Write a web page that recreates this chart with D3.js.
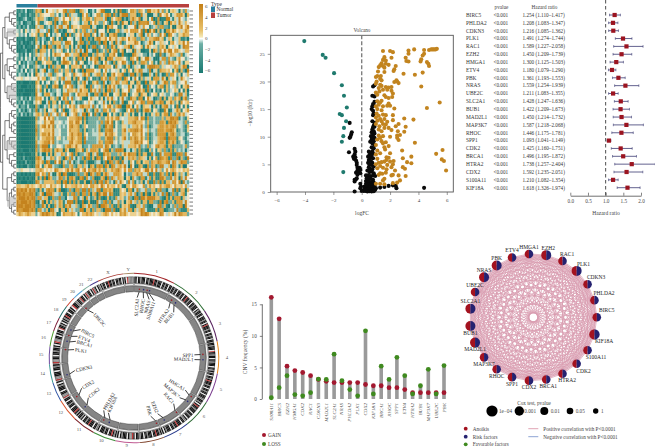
<!DOCTYPE html>
<html><head><meta charset="utf-8">
<script src="https://cdn.jsdelivr.net/npm/d3@7"></script>
<style>html,body{margin:0;padding:0;background:#fff}svg{display:block}text{font-family:"Liberation Serif",serif}</style>
</head><body><svg id="c" width="655" height="448"></svg>
<script>
// ---------- heatmap ----------
const heatRows = [
"1121301127681684271538740164587315062784315764103872465138750247163875204613857241",
"0211202116254703867140625837016475238641705264873150627483160574382607513486270518",
"1012310125738614068354726017846315704826351760482735164705827361408726153704681532",
"2130122014760382514763801256478306175248370165284731605724816350478162537084261735",
"1202131106351748260571346807254160738427506183465270148375621407538160247358126470",
"3241532435847602631578043682517406385721460378152647053816427503186274051836472815",
"4232413546158370462785136047285163740586213704856213075482631704582163740526817340",
"0110210017256038417526083417605283174605328471560832471650273186470528136470538216",
"1020101206381752407618354072685134708526314785061347285160473825106748352617048362",
"0102011014725083617405286137460825136708425137608254713860425817360472581637402586",
"0011200127058316472805136748025617384025736184750263184072561384702561830476258130",
"3120314126375804162783405167280365147826301574826035147286350172648035172684530261",
"2131423030657184270365814720357681403627580146375028164735026487153620784153627804",
"1402132217048526317604825371680425317860423516784025613874205163870452617385024617",
"3023141126384170526348071652840367185204637158024763185026473815602478351620748361",
"2130412317046825137408265317064825736104875263407185236470815236478105623748150326",
"1322031408572614035786124075368214705836217406853126740538216470582637140586273041",
"4453443444756236647305846257130684275316047582631704528136047528163740582613704528",
"0010001007582614703586214073685127048536217804536127084531627485016372850463172806",
"0100010106472581360472581630475286134075281630742586130472861537048265130748265103",
"0001000007362581470362581746032586147302581643705268134705826134752068137450268134",
"0010000108472601538462701538472601358470216357480126358741026385470162385471026538",
"2131203127605184273605814720368157402638571460375281640372851640372581640782516403",
"1203121036485270163847250163874052618730546128703654127083561427086354127086351240",
"3022131107263851704263581746025381764025831746208357164207358146203851746201387560",
"1312023128170582637106842537108625341706825314760258341607253481607253846017253840",
"2031202136701826350781462730581642730581647302581640725816430725814630725814673025",
"0000000007226172345872264781226857234647822678512268573226478226782316287345267123",
"0000000006327163347862263871236758234758622785132276843275682237863172684362715243",
"0000000007216272358761327684223877234658223768142687543276582237682217673456271235",
"0000000008227162357862264771327685234768122786323768543276682237683217674365172348",
"0000000007236172358761227684224776234768222678523786543376582337683216784362517246",
"0000000006228172346781326873227687235678123687252687654276582237582316875463217258",
"0000000007327162357681336782236786243678123788322688544275682337682317674352617423",
"0000000008236173368722268712366852347681227871227865432765822376822177753462715243",
"0010001007261806358716037816270816345376271068237501682760718362716801762873425160",
"0001000106187207536831680716827061834762801671286180627381706283716281706354172638",
"0102010007861702364816073827186072846730817263706182716083761287062817635408172365",
"0010201006728160358372617082736187062487306817260837168270618736208173635482071683",
"1010021017816270348162701683728617062458371608716270836182736078162708361254736018",
"4354443436674685472685476574867456748257468574657386574865748652748657485746574857",
"0101010107861270348761827608172638071623581068726108376281607386270617283546172380",
"0010101006172837560817261837160827361708521738607182637086127308172681607354627180",
"0100010018726170238361782670183627081763482716082713670817263807162837160752861374",
"6655675654567451674567465746574657465746574574657465746576457465746574657413876250",
"8787868782173820167382071682617371862076821738016728716380271682731608273546102785",
"8878778871280716358270168372617082716387106278136270816738261708273618270354681726",
"7888787882701682371608273617802617384062716380172638170628173601782637018254173682",
"8788878781072816538207168261738071628361702861370182637081627380716283706354281670",
"8887888782180716527360178623071627836017263806172836017283617082637180627354810276",
"8778887871702816378201673826107283617062817360827163801273680167283716027456218307",
"5765676552465674567465748657465748656586574657486574657486574657485763417062534817"
];
const heatColors = ["#1c7a72","#2f8a80","#6caa9f","#bcd8ce","#f0e8cc","#ecd08e","#e3b862","#d39a36","#c4831e"];
const heatLegendTicks = [6,4,2,0,-2,-4,-6];
const typeNames = ["Normal","Tumor"];
const typeColors = ["#2a7f9e","#b8403e"];
const normalCols = 10;
const tumorColumnStride = 31; // display order of the tumour samples after clustering
const dendro = [[[[[0,0],[0,[0,0]]],[[0,0],[[0,0],[0,[0,0]]]]],[[[0,0],[[0,0],[0,[0,0]]]],[[0,[0,0]],[0,[0,[0,0]]]]]],[[[[0,[0,0]],[[0,0],[0,0]]],[[0,[0,[0,0]]],[[0,0],[0,[0,0]]]]],[[[0,0],[0,0]],[[[0,0],[0,0]],[[0,0],[0,0]]]]]];
// ---------- volcano ----------
const volcanoDown = [[-4.05,27.3],[-2.75,24.8],[-2.55,24.3],[-1.95,21.5],[-1.4,19.3],[-1.25,17.4],[-1.05,15.3],[-1.55,14.1],[-1.4,13.9],[-1.1,12.8],[-1.25,11.6],[-1.3,10.1],[-1.4,9.1],[-1.3,3.6]];
const volcanoUp = [[4.75,25.7],[4.9,25.8],[5,25.8],[5.1,25.8],[5.2,25.8],[5.3,25.9],[4.4,25.7],[4.4,25],[4.3,24.7],[4.2,24],[4.15,23.6],[4.6,23.5],[4.7,23.2],[4.75,22.8],[3.3,25.6],[3.7,25.8],[3.3,25],[3.1,24.3],[3.3,23.6],[3.15,23.7],
[1.5,25.5],[2.0,25.5],[2.2,25.3],[1.6,24.4],[1.5,23.9],[2.1,24.3],[1.7,23.8],[1.4,23.3],[1.7,23.2],[1.9,23],[1.3,22.9],[1.5,22.8],[1.6,22.5],[1.2,22.6],[2.4,22.8],[2.3,22.2],[2.25,21.9],[1.15,21.8],[1.6,21.7],[1.1,21],[1.0,20.8],[1.35,21],[1.3,20.5],[2.95,21.4],[3.75,21.2],[4.3,21.6],[1.4,20.2],[2.45,20.2],[2.5,20.0],[2.3,19.9],[2.6,19.7],[1.05,20],[1.0,19.6],[1.3,19.4],[1.4,19.2],[1.7,19],[1.9,18.9],[2.1,19],[1.2,18.8],[1.5,18.5],[1.25,18.2],[4.2,19.1],[1.8,18.5],[2.1,18.3],[2.2,17.8],[1.0,18],[1.1,17.6],[1.6,17.5],[1.7,17.2],[1.9,17],[2.15,17.2],[1.4,16.5],[1.1,16.4],[1.3,16.2],[1.9,16],[1.5,15.5],[1.2,15.8],[1.0,15.5],[1.8,15.6],[2.0,15.6],[5.5,16.2],[1.1,15],[1.4,14.8],[1.05,14.2],[2.3,15.1],[4.6,15.2],[1.5,14],[1.2,13.8],[1.7,13.9],[1.0,13.5],[2.2,13.9],[1.6,13.2],[1.3,13.2],[3.0,13.3],[2.2,13],[3.65,13.1],[1.1,12.9],[1.4,12.8],[1.8,12.7],[1.5,12.3],[1.7,12.2],[1.0,12.3],[1.25,11.9],[2.6,12.3],[2.4,11.9],[1.9,11.6],[3.1,11.8],[1.6,11.6],[1.2,11.3],[2.1,11.2],[2.55,11],[1.4,11],[3.0,10.9],
[2.5,10.2],[2.7,10.3],[2.0,10],[1.2,10.2],[1.5,10.1],[1.3,9.8],[2.5,9.8],[2.6,9.4],[1.1,9.5],[1.4,9.2],[1.7,9.0],[1.5,8.8],[3.75,8.9],[1.0,8.5],[1.9,8.3],[1.6,8.1],[1.65,7.7],[1.1,7.5],[2.85,7.5],[5.7,7.6],[5.25,6.9],[1.3,7],[1.0,6.8],[2.0,7],[1.9,6.2],[3.5,6.4],[1.75,6.3],[2.9,6.1],[1.1,6],[1.75,5.8],[1.6,5.5],[5.65,5.9],[5.8,5.6],[1.2,5.3],[1.4,5.4],[2.0,5.5],[2.25,5.6],[3.2,5.4],[3.5,5.2],[2.2,5],[1.0,5],[1.8,4.9],[1.3,4.7],[2.1,4.5],[2.9,4.5],[3.05,4.2],[1.5,4.4],[1.1,4.3],[1.75,4.1],[5.95,3.9],[2.35,3.9],[1.7,3.5],[1.3,3.4],[1.45,3.3],[1.2,3.1],[2.2,3.1],[2.1,3],[2.6,3],[3.1,2.9],[1.6,2.4],[1.5,2.1],[2.7,2.1],[2.5,1.7],[2.2,1.6],[1.0,1.5],[1.3,1.5],[1.6,1.4]];
const volcanoNS = [[-0.85,12.5],[-0.7,10.8],[-0.75,10.4],[-0.8,10.0],[-0.85,9.8],[-0.5,7.8],[-0.45,7.3],[-0.5,6.8],[-0.9,7.2],[-0.6,6.4],[-0.45,6.3],[-0.55,6],[-0.4,5.7],[-0.35,5.3],[-0.35,4.9],[-0.3,4.4],[-0.15,4.4],[-0.1,4],[-0.3,3.9],[-0.4,3.5],[-0.1,3.4],[-0.2,3.7],[-0.3,3.1],[-0.4,2.3],[-0.5,2.2],[-0.5,1.9],[-0.35,2.5],[-0.1,1.5],[-0.05,1],[-0.1,0.7],[-0.5,0.1],[0,0.2],
[0.9,19.3],[0.8,19.1],[0.75,17.4],[0.9,17.3],[0.9,16.3],[0.8,15.9],[0.75,15.5],[0.85,15.6],[0.7,15],[0.8,14.7],[0.85,14.2],[0.8,13.9],[0.75,12.8],[0.9,12.5],[0.85,12],[0.9,11.8],[0.8,11.7],[0.75,11.3],[0.85,11],[0.7,10.8],[0.9,10.6],[0.8,10.3],[0.65,10.1],[0.75,9.9],[0.9,9.8],[0.7,9.5],[0.85,9.2],[0.6,9.1],[0.75,8.8],[0.9,8.5],[0.7,8.1],[0.85,7.9],[0.75,7.4],[0.5,7.3],[0.6,7.1],[0.8,7],[0.55,6.7],[0.7,6.6],[0.45,6.4],[0.6,6.2],[0.8,6.1],[0.5,5.8],[0.65,5.6],[0.75,5.3],[0.45,5.3],[0.55,5],[0.7,4.9],[0.85,4.6],[0.5,4.5],[0.6,4.2],[0.75,4.1],[0.4,3.9],[0.55,3.6],[0.7,3.7],[0.85,3.4],[0.3,3],[0.45,3],[0.6,2.9],[0.8,3],[0.95,2.9],[0.35,2.5],[0.5,2.4],[0.65,2.4],[0.8,2.2],[0.3,2],[0.45,1.9],[0.55,1.8],[0.7,1.8],[0.85,1.7],[0.3,1.5],[0.4,1.4],[0.5,1.3],[0.65,1.3],[0.75,1.2],[0.9,1.2],[0.2,1],[0.35,1],[0.5,0.9],[0.6,0.9],[0.75,0.8],[0.85,0.7],[0.2,0.6],[0.3,0.5],[0.45,0.5],[0.6,0.5],[0.7,0.4],[0.8,0.4],[0.95,0.4],[0.1,0.2],[0.25,0.2],[0.4,0.1],[0.55,0.15],[0.7,0.1],[0.85,0.15],
[1.0,0.7],[1.3,0.8],[1.6,0.9],[1.9,1.1],[2.2,1.2],[2.4,1.1],[2.45,0.7],[4.4,0.75]];
const volcanoXTicks = [-6,-4,-2,0,2,4,6];
const volcanoYTicks = [0,5,10,15,20,25];
// ---------- forest ----------
const forestGenes = ["BIRC5","PHLDA2","CDKN3","PLK1","RAC1","EZH2","HMGA1","ETV4","PBK","NRAS","UBE2C","SLC2A1","BUB1","MAD2L1","MAP3K7","RHOC","SPP1","CDK2","BRCA1","HTRA2","CDX2","S100A11","KIF18A"];
const forestHR = [1.254,1.208,1.216,1.491,1.589,1.450,1.300,1.180,1.361,1.559,1.211,1.428,1.422,1.450,1.587,1.446,1.093,1.425,1.496,1.738,1.592,1.210,1.618];
const forestLow = [1.110,1.083,1.085,1.274,1.227,1.209,1.125,1.079,1.193,1.254,1.083,1.247,1.209,1.214,1.218,1.175,1.041,1.160,1.195,1.257,1.235,1.082,1.326];
const forestHigh = [1.417,1.347,1.362,1.744,2.058,1.739,1.503,1.290,1.553,1.939,1.355,1.636,1.673,1.732,2.068,1.781,1.149,1.751,1.872,2.404,2.051,1.354,1.974];
const forestTicks = [0,0.5,1,1.5,2];
// ---------- circos ----------
const chromNames = ["1","2","3","4","5","6","7","8","9","10","11","12","13","14","15","16","17","18","19","20","21","22","X","Y"];
const chromSizes = [249,243,198,191,181,171,159,146,141,136,135,134,115,107,103,90,81,78,59,63,48,51,155,59];
const chromColors = ["#a3262a","#2c6e33","#5b2560","#e5871b","#7c3f8f","#2f6a35","#283a8c","#7a3b22","#c05a92","#3f8f3a","#7c1f26","#d9552c","#2f55a5","#3a9a94","#6f4ea0","#4c9a2a","#7b1e3b","#1f6a66","#c8402f","#5aa5d8","#7fb0a0","#4a3a8c","#a83a34","#a98a66"];
const chromBands = ["kkwkkgkkkwkkgkkkrkkgkkkwkkgkkwkk","kkgkkwkkkgkkwkkrkkgkkwkkgkkkwkgkk","kkwkkkgkkwkrkkkgkkwkkgkkwkk","kkgkkkwrkkgkkwkkgkkkwkkgk","kkwkkgkrkkkgkkwkkgkkwkkkg","kkgkwkrkkgkkkwkkgkkwkg","kkwkkkrkkgkkwkkkgkwk","kgkkrkkwkkkgkkwkkg","kkwkrggkwkkkgkwk","kgkrkkwkkgkkkwkg","kkwkkkrkkgkkwkgkk","kgkrkkkwkkgkkwkk","rggkkwkkkgkwk","rggkkkwkkgk","rggkkwkkgkk","kwkrggkkwk","kkwrkkgkwk","kgkrkkwkk","kwrkkg","kkgrkkwk","rgkkwk","rgkwkg","kgkkwkkrkkgkkwkkgkkwk","kwrgggg"];
const geneLabels = ["SLC2A1","RHOC","NRAS","S100A11","HTRA2","BUB1","SPP1","MAD2L1","HMGA1","MAP3K7","RAC1","EZH2","PBK","KIF18A","PHLDA2","CDK2","CDX2","CDKN3","PLK1","BRCA1","ETV4","BIRC5","UBE2C"];
const geneLabelAngles = [3,9,14.5,19.5,35,41,87,91.5,122,131,139,157,164,205,210,229,240,258,278,286,291,298,318];
const geneTrackAngles = [4.5,8,11,13,33,37,87,91.5,124,129,142,154,161,201,206,225,236,256,277,284,289,294,316];
const geneDotColors = ["#a21a22","#2a2a7a"];
// ---------- CNV ----------
const cnvGenes = ["S100A11","BIRC5","EZH2","HMGA1","CDK2","RAC1","CDKN3","MAD2L1","SLC2A1","NRAS","PHLDA2","PLK1","CDX2","KIF18A","BRCA1","RHOC","SPP1","ETV4","HTRA2","BUB1","MAP3K7","UBE2C","PBK"];
const cnvGain = [16.1,12.7,5.2,4.5,4.2,3.7,3.1,2.8,2.6,2.6,2.6,2.6,2.3,2.1,2.1,1.8,1.8,1.5,1.0,1.0,1.0,1.0,1.0];
const cnvLoss = [0.2,1.8,3.7,0.7,0.5,1.0,3.15,3.1,7.1,2.9,1.5,0.5,10.8,0.8,5.2,3.1,6.6,3.7,0.8,2.1,4.7,0.8,5.3];
const cnvTicks = [0,5,10,15];
// ---------- network ----------
const netGenes = ["BIRC5","PHLDA2","CDKN3","PLK1","RAC1","EZH2","HMGA1","ETV4","PBK","NRAS","UBE2C","SLC2A1","BUB1","MAD2L1","MAP3K7","RHOC","SPP1","CDX2","BRCA1","HTRA2","CDK2","S100A11","KIF18A"];
const netPvalueRank = [2.3,2.3,2.3,3,2.3,3,2.3,2.3,3,3,2.3,3,3,3,2.3,2.3,2.3,2.3,2.3,2.3,2.3,2.3,3.2];
const coxLabels = ["1e−04","0.001","0.01","0.05","1"];
const coxSizes = [5.6,4.7,4,3.3,2.7];

const svg = d3.select("#c");
const serif = "Liberation Serif";
function T(g,x,y,s,size,anchor,fill){return g.append("text").attr("x",x).attr("y",y).text(s).attr("font-size",size).attr("text-anchor",anchor||"start").attr("fill",fill||"#444");}

// ===== heatmap =====
(function(){
 const g = svg.append("g");
 const nc = d3.max(heatRows,r=>r.length);
 const x = d3.scaleBand().domain(d3.range(nc)).range([16.5,189]);
 const y = d3.scaleBand().domain(d3.range(heatRows.length)).range([9,216]);
 const col = d3.scaleQuantize().domain([0,9]).range(heatColors);
 const nt = nc-normalCols;
 const place = j => j<normalCols ? j : normalCols+((j-normalCols)*tumorColumnStride)%nt;
 g.append("rect").attr("x",16.5).attr("y",9).attr("width",172.5).attr("height",207).attr("fill","#e8dcb0");
 heatRows.forEach((r,i)=>{
   g.selectAll(null).data(r.split("")).enter().append("rect")
    .attr("x",(d,j)=>x(place(j))).attr("y",y(i)).attr("width",x.bandwidth()+.2).attr("height",y.bandwidth()+.2)
    .attr("fill",d=>col(+d+.5));
 });
 const boundary = x(normalCols);
 g.append("rect").attr("x",16.5).attr("y",4).attr("width",boundary-16.5).attr("height",3.5).attr("fill",typeColors[0]);
 g.append("rect").attr("x",boundary).attr("y",4).attr("width",189-boundary).attr("height",3.5).attr("fill",typeColors[1]);
 // row ticks
 g.selectAll(null).data(heatRows).enter().append("line")
  .attr("x1",189.5).attr("x2",193).attr("y1",(d,i)=>y(i)+y.bandwidth()/2).attr("y2",(d,i)=>y(i)+y.bandwidth()/2)
  .attr("stroke","#555").attr("stroke-width",.8);
 // dendrogram
 const toTree = n => Array.isArray(n)?{children:n.map(toTree)}:{};
 const root = d3.hierarchy(toTree(dendro));
 d3.cluster().size([207,15.5]).separation(()=>1)(root);
 const dg = g.append("g").attr("transform","translate(0.5,9)");
 dg.selectAll(null).data(root.links()).enter().append("path")
   .attr("d",l=>`M${l.source.y},${l.source.x}V${l.target.x}H${l.target.y}`)
   .attr("fill","none").attr("stroke","#222").attr("stroke-width",.6);
 [[85,110],[255,295],[420,450],[590,620]].forEach(b=>{
   g.append("rect").attr("x",7).attr("y",b[0]/3).attr("width",9).attr("height",(b[1]-b[0])/3).attr("fill","#bbb").attr("opacity",.6);
 });
 // colour legend
 const sc = d3.scaleLinear().domain([-6.5,6.5]).range([73,4]);
 const stops = [[-6.5,"#1b7a72"],[-1,"#6fb0a6"],[-.3,"#d8ebe6"],[0,"#fff"],[.3,"#f5e9b8"],[1.5,"#e8c26c"],[6.5,"#c47f16"]];
 const defs = svg.append("defs");
 const gr = defs.append("linearGradient").attr("id","hg").attr("x1",0).attr("x2",0).attr("y1",1).attr("y2",0);
 stops.forEach(s=>gr.append("stop").attr("offset",(s[0]+6.5)/13).attr("stop-color",s[1]));
 g.append("rect").attr("x",199).attr("y",4).attr("width",4).attr("height",69).attr("fill","url(#hg)");
 heatLegendTicks.forEach(t=>T(g,205,sc(t)+1.8,t<0?"−"+(-t):t,5,"start"));
 T(g,211,5.5,"Type",5.5,"start","#333");
 typeNames.forEach((n,i)=>{
   g.append("rect").attr("x",211).attr("y",6.5+i*6).attr("width",4).attr("height",5.5).attr("fill",typeColors[i]);
   T(g,216.5,11+i*6,n,5.5,"start","#333");
 });
})();

// ===== volcano =====
(function(){
 const g = svg.append("g");
 const x = d3.scaleLinear().domain([-6.42,6.46]).range([270.7,453.3]);
 const y = d3.scaleLinear().domain([0,28.35]).range([192,35.3]);
 g.append("rect").attr("x",270.7).attr("y",35.3).attr("width",182.6).attr("height",156.7).attr("fill","none").attr("stroke","#555").attr("stroke-width",.9);
 g.append("line").attr("x1",x(0)).attr("x2",x(0)).attr("y1",35.3).attr("y2",192).attr("stroke","#777").attr("stroke-width",1.3).attr("stroke-dasharray","4 2");
 const dot=(d,c)=>g.selectAll(null).data(d).enter().append("circle").attr("cx",p=>x(p[0])).attr("cy",p=>y(p[1])).attr("r",2.05).attr("fill",c);
 dot(volcanoNS,"#0a0a0a"); dot(volcanoUp,"#c2841f"); dot(volcanoDown,"#1f7a6e");
 const ax=g.append("g").attr("transform","translate(0,192)").call(d3.axisBottom(x).tickValues(volcanoXTicks).tickSize(3).tickFormat(d=>d<0?"−"+(-d):d));
 const ay=g.append("g").attr("transform","translate(270.7,0)").call(d3.axisLeft(y).tickValues(volcanoYTicks).tickSize(3));
 [ax,ay].forEach(a=>{a.select(".domain").remove();a.selectAll("text").attr("font-size",5).attr("font-family",serif).attr("fill","#444");a.selectAll("line").attr("stroke","#555").attr("stroke-width",.6);});
 T(g,362,32,"Volcano",5.2,"middle");
 T(g,362,215,"logFC",5.5,"middle");
 T(g,0,0,"−log10 (fdr)",5.5,"middle").attr("transform","translate(252,113) rotate(-90)");
})();

// ===== forest =====
(function(){
 const g = svg.append("g");
 const x = d3.scaleLinear().domain([0,2]).range([570.3,641]);
 const y = d3.scaleLinear().domain([0,22]).range([15,187.7]);
 T(g,501.5,8.6,"pvalue",5.2,"middle"); T(g,544.5,8.6,"Hazard ratio",5.2,"middle");
 forestGenes.forEach((n,i)=>{
   const yy=y(i);
   T(g,466,yy+1.8,n,5.4,"start","#333");
   T(g,493.5,yy+1.8,"<0.001",5.2,"start","#333");
   T(g,522.5,yy+1.8,`${forestHR[i].toFixed(3)} (${forestLow[i].toFixed(3)}–${forestHigh[i].toFixed(3)})`,5.2,"start","#333");
   g.append("line").attr("x1",x(forestLow[i])).attr("x2",x(forestHigh[i])).attr("y1",yy).attr("y2",yy).attr("stroke","#3b3a72").attr("stroke-width",.8);
   [forestLow[i],forestHigh[i]].forEach(v=>g.append("line").attr("x1",x(v)).attr("x2",x(v)).attr("y1",yy-1.3).attr("y2",yy+1.3).attr("stroke","#3b3a72").attr("stroke-width",.6));
   g.append("rect").attr("x",x(forestHR[i])-2.1).attr("y",yy-2.1).attr("width",4.2).attr("height",4.2).attr("fill","#9b1420");
 });
 g.append("line").attr("x1",x(1)).attr("x2",x(1)).attr("y1",0).attr("y2",195.7).attr("stroke","#222").attr("stroke-width",.8).attr("stroke-dasharray","3.5 2.5");
 const ax=g.append("g").attr("transform","translate(0,195.7)").call(d3.axisBottom(x).tickValues(forestTicks).tickSize(-3).tickSizeOuter(0).tickPadding(3).tickFormat(d3.format(".1f")));
 ax.selectAll("text").attr("font-size",5.2).attr("font-family",serif).attr("fill","#444").attr("dy","0.9em");
 ax.selectAll("line").attr("stroke","#333").attr("stroke-width",.6);
 ax.select(".domain").attr("stroke","#333").attr("stroke-width",.7);
 T(g,606,215,"Hazard ratio",5.5,"middle");
})();

// ===== circos =====
(function(){
 const cx=134, cy=358;
 const g = svg.append("g").attr("transform",`translate(${cx},${cy})`);
 const pie = d3.pie().sort(null).value(d=>d).padAngle(0.012)(chromSizes);
 const arc = d3.arc();
 const A=(ri,ro,s,e)=>arc({innerRadius:ri,outerRadius:ro,startAngle:s,endAngle:e});
 const nameColor = d3.scaleOrdinal().domain(chromNames).range(chromColors);
 const bandCol={k:"#111",g:"#888",w:"#e8e8e8",r:"#c23a3a"};
 g.selectAll(null).data(pie).enter().append("path").attr("d",d=>A(84.3,85.3,d.startAngle,d.endAngle)).attr("fill",(d,i)=>nameColor(chromNames[i]));
 pie.forEach((d,i)=>{
   const a=d.startAngle+d.padAngle/2, b=d.endAngle-d.padAngle/2;
   const s=chromBands[i].split("");
   const bs=d3.scaleLinear().domain([0,s.length]).range([a,b]);
   s.forEach((c,j)=>g.append("path").attr("d",A(74.8,81.3,bs(j),bs(j+1))).attr("fill",bandCol[c]));
   g.append("path").attr("d",A(74.8,81.3,a,b)).attr("fill","none").attr("stroke","#111").attr("stroke-width",.35);
   g.append("path").attr("d",A(72.4,74.3,a,b)).attr("fill","#fff").attr("stroke","#111").attr("stroke-width",.35);
   g.append("path").attr("d",A(66.3,72,a,b)).attr("fill","#858585").attr("stroke","#222").attr("stroke-width",.4);
   const m=(a+b)/2;
   T(g,Math.sin(m)*93,-Math.cos(m)*88.5+1.2,chromNames[i],4.8,"middle","#555");
 });
 geneLabels.forEach((n,i)=>{
   const a=geneLabelAngles[i]*Math.PI/180, t=geneTrackAngles[i]*Math.PI/180;
   const P=(r,an)=>[Math.sin(an)*r,-Math.cos(an)*r];
   const p0=P(66.5,t),p2=P(60.5,a);
   g.append("path").attr("d",d3.line()([p0,p2])).attr("fill","none").attr("stroke","#111").attr("stroke-width",.8);
   const pd=P(69,t);
   g.append("circle").attr("cx",pd[0]).attr("cy",pd[1]).attr("r",.8).attr("fill",geneDotColors[i%2]);
   const left=geneLabelAngles[i]>180;
   const deg=geneLabelAngles[i];
   T(g,0,0,n,5,left?"start":"end","#222").attr("dy","0.33em")
     .attr("transform",`translate(${P(59.5,a)[0]},${P(59.5,a)[1]}) rotate(${left?deg+90:deg-90})`);
 });
})();

// ===== CNV =====
(function(){
 const g = svg.append("g");
 const x = d3.scalePoint().domain(cnvGenes).range([271.3,444.0]);
 const y = d3.scaleLinear().domain([0,15]).range([399,304.3]);
 g.append("g").selectAll(null).data(cnvGenes).enter().append("rect")
   .attr("x",d=>x(d)-1.8).attr("width",3.6)
   .attr("y",(d,i)=>y(Math.max(cnvGain[i],cnvLoss[i]))).attr("height",(d,i)=>399-y(Math.max(cnvGain[i],cnvLoss[i])))
   .attr("fill","#9a9a9a");
 const ay=g.append("g").attr("transform","translate(262.3,0)").call(d3.axisLeft(y).tickValues(cnvTicks).tickSize(2.5));
 ay.selectAll("text").attr("font-size",5.2).attr("font-family",serif).attr("fill","#444");
 ay.select(".domain").attr("stroke","#333").attr("stroke-width",.7).attr("d","M0,399V304.3");
 ay.selectAll("line").attr("stroke","#333").attr("stroke-width",.6);
 g.selectAll(null).data(cnvGain).enter().append("circle").attr("cx",(d,i)=>x(cnvGenes[i])).attr("cy",d=>y(d)).attr("r",2.4).attr("fill","#a3182f");
 g.selectAll(null).data(cnvLoss).enter().append("circle").attr("cx",(d,i)=>x(cnvGenes[i])).attr("cy",d=>y(d)).attr("r",2.4).attr("fill","#3f8a1f");
 cnvGenes.forEach(n=>T(g,0,0,n,5,"end","#444").attr("font-style","italic").attr("transform",`translate(${x(n)+1.5},403) rotate(-90)`));
 T(g,0,0,"CNV frequency (%)",5.5,"middle").attr("transform","translate(247,352) rotate(-90)");
 [["GAIN","#a3182f",435],["LOSS","#3f8a1f",444]].forEach(l=>{
   g.append("circle").attr("cx",264).attr("cy",l[2]).attr("r",2).attr("fill",l[1]);
   T(g,268,l[2]+1.8,l[0],5.2,"start");
 });
})();

// ===== network =====
(function(){
 const g = svg.append("g");
 const cx=533.3, cy=317.3, R=63.5;
 const ang = d3.scaleLinear().domain([0,netGenes.length]).range([0,2*Math.PI]);
 const nodes = netGenes.map((n,i)=>({n,i,x:cx+Math.cos(ang(i))*R,y:cy-Math.sin(ang(i))*R,r:netPvalueRank[i]+2}));
 const edges = d3.merge(nodes.map((a,i)=>nodes.slice(i+1).map(b=>[a,b])));
 g.selectAll(null).data(edges).enter().append("line").attr("x1",d=>d[0].x).attr("y1",d=>d[0].y).attr("x2",d=>d[1].x).attr("y2",d=>d[1].y)
   .attr("stroke","#d99cb0").attr("stroke-width",.85).attr("opacity",.85);
 const arc=d3.arc().innerRadius(0);
 nodes.forEach(d=>{
   const gg=g.append("g").attr("transform",`translate(${d.x},${d.y})`);
   gg.append("path").attr("d",arc({outerRadius:d.r,startAngle:Math.PI,endAngle:2*Math.PI})).attr("fill","#a3121f");
   gg.append("path").attr("d",arc({outerRadius:d.r,startAngle:0,endAngle:Math.PI})).attr("fill","#252270");
   const c=Math.cos(ang(d.i)), s=Math.sin(ang(d.i));
   const dx=c>0?10*c:0, dy=s>=0?-7:7;
   T(g,d.x+dx,d.y+dy+1.8,d.n,5.5,"middle","#222");
 });
 T(g,534,404.5,"Cox test, pvalue",5.2,"middle");
 const lx=[492,519.3,544.3,570,595.7], tx=[499,524.3,550.7,575.7,601];
 coxLabels.forEach((l,i)=>{
   g.append("circle").attr("cx",lx[i]).attr("cy",411).attr("r",coxSizes[i]).attr("fill","#000");
   T(g,tx[i],412.8,l,5.2,"start");
 });
 [["Anoikis","#a3121f",428.7],["Risk factors","#252270",436.7],["Favorable factors","#3f8a1f",444.3]].forEach(l=>{
   g.append("circle").attr("cx",465.7).attr("cy",l[2]).attr("r",1.9).attr("fill",l[1]);
   T(g,472.7,l[2]+1.8,l[0],5.2,"start");
 });
 [["Positive correlation with P<0.0001","#e0a4b4",428.7],["Negative correlation with P<0.0001","#8ea4d4",436.7]].forEach(l=>{
   g.append("line").attr("x1",528.3).attr("x2",538.3).attr("y1",l[2]).attr("y2",l[2]).attr("stroke",l[1]).attr("stroke-width",1);
   T(g,543.3,l[2]+1.8,l[0],5.2,"start");
 });
})();
</script></body></html>
